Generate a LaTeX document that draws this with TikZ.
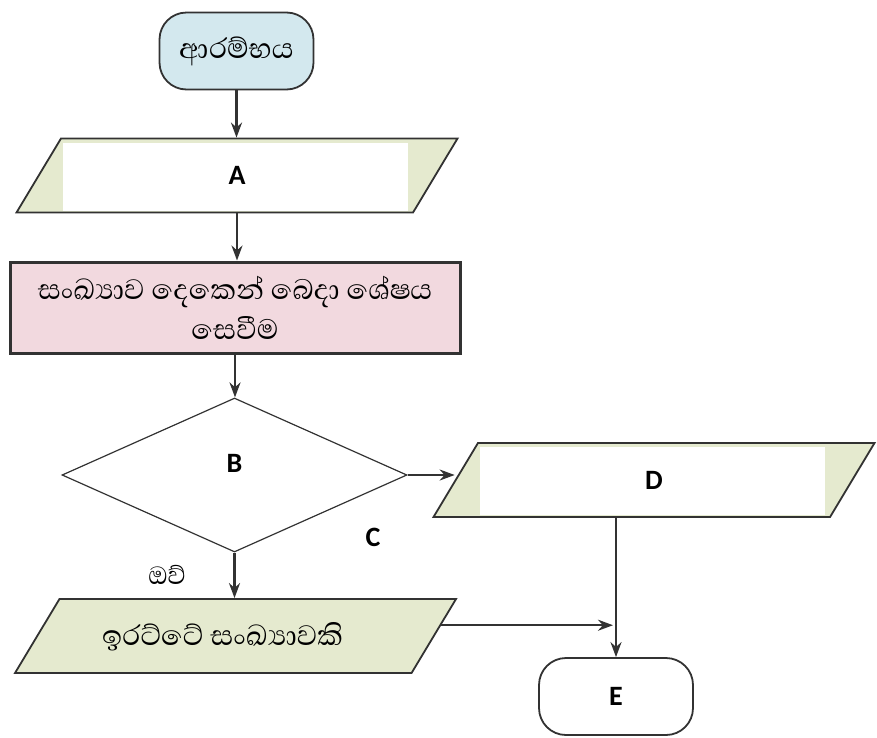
\documentclass[tikz,border=0pt]{standalone}
\usepackage{fontspec}
\setmainfont{Carlito}
\newfontfamily\sinfont[Script=Sinhala]{Abhaya Libre}
\usetikzlibrary{shapes.geometric, arrows.meta}
\definecolor{linegray}{RGB}{50,50,50}
\definecolor{startblue}{RGB}{211,232,238}
\definecolor{procpink}{RGB}{242,217,223}
\definecolor{iogreen}{RGB}{229,234,207}
\newcommand{\latfont}{\bfseries\fontsize{28}{30}\selectfont}
\newcommand{\sintext}{\sinfont\fontsize{36}{36}\selectfont}

\begin{document}
\begin{tikzpicture}[x=1pt, y=-1pt,
    term/.style={draw=linegray, line width=1.8pt, rounded corners=27pt, minimum width=154pt, minimum height=77pt, inner sep=0pt},
    io/.style={trapezium, trapezium left angle=59, trapezium right angle=121, trapezium stretches body,
      text height=46pt, text depth=28pt, inner sep=0pt,
      draw=linegray, line width=1.8pt, fill=iogreen, minimum width=441pt, minimum height=74pt},
    ioblank/.style={io, path picture={\fill[white] ([xshift=46pt,yshift=-4pt]path picture bounding box.north west)
      rectangle ([xshift=-50pt,yshift=2pt]path picture bounding box.south east);}},
    proc/.style={draw=linegray, line width=3pt, fill=procpink, minimum width=450pt, minimum height=91pt, align=center, font=\sintext},
    decision/.style={diamond, draw=linegray, line width=1.2pt, minimum width=345pt, minimum height=154pt, inner sep=0pt},
    arr/.style={-{Stealth[length=15pt, width=11pt]}, line width=2.4pt, draw=linegray}
  ]
  \useasboundingbox (0,0) rectangle (877,737);

  % boxes
  \node[term, fill=startblue, font=\sintext] (start) at (236.5,51) {ආරම්භය};
  \node[ioblank, font=\latfont] (A) at (237,175.5) {A};
  \node[proc] (proc) at (235,307.5) {\raisebox{4pt}{සංඛ්‍යාව දෙකෙන් බෙදා ශේෂය}\\සෙවීම};
  \node[decision, label={[font=\latfont, yshift=12pt]center:B}] (dec) at (234.5,475) {};
  \node[ioblank, font=\latfont] (D) at (654,480) {D};
  \node[io, font=\sintext] (even) at (235.5,636) {\hspace*{-26pt}ඉරට්ටේ සංඛ්‍යාවකි};
  \node[term, font=\latfont] (E) at (616,696.5) {E};
  \node[font=\latfont] (lblC) at (373,537) {C};

  % connectors
  \draw[arr] (start.south) -- (start.south |- A.north);
  \draw[arr] (A.south) -- (A.south |- proc.north);
  \draw[arr] (proc.south) -- (proc.south |- dec.north);
  \draw[arr] (dec.east) -- (dec.east -| D.west);
  \draw[arr] (dec.south) -- (dec.south |- even.north)
    node[midway, left=44pt, font=\sinfont\fontsize{32}{32}\selectfont] (yes) {ඔව්};
  \draw[arr] (D.south -| E.north) -- (E.north);
  \draw[arr, shorten >=3pt] (even.3.6) -- (even.3.6 -| E.north);
\end{tikzpicture}
\end{document}
